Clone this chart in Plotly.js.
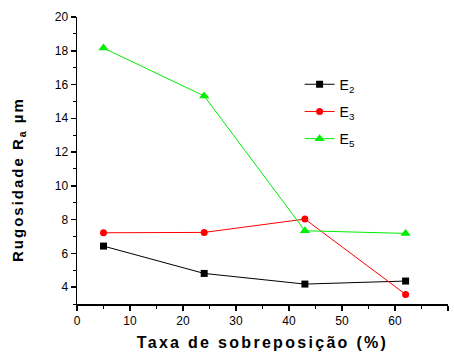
<!DOCTYPE html>
<html><head><meta charset="utf-8">
<script src="https://cdn.plot.ly/plotly-3.0.1.min.js"></script>
<style>
html,body{margin:0;padding:0;background:#fff;}
#chart{width:454px;height:356px;}
.xtitle{letter-spacing:2.3px;}
.annotation-text{letter-spacing:2px;}
</style>
</head><body>
<div id="chart"></div>
<script>
const overlap = [5, 24, 43, 62];
const E2 = [6.43, 4.81, 4.18, 4.36];
const E3 = [7.22, 7.24, 8.03, 3.57];
const E5 = [18.16, 15.32, 7.34, 7.18];
const seriesNames = ['E<sub>2</sub>', 'E<sub>3</sub>', 'E<sub>5</sub>'];
const xTicks = [0, 10, 20, 30, 40, 50, 60, 70];
const yTicks = [4, 6, 8, 10, 12, 14, 16, 18, 20];

const traces = [
  {x: overlap, y: E2, name: seriesNames[0], legendgroup: 'g2', mode: 'lines+markers',
   line: {color: '#000000', width: 1}, marker: {symbol: 'square', size: 7, color: '#000000'}},
  {x: overlap, y: E3, name: seriesNames[1], legendgroup: 'g3', mode: 'lines+markers',
   line: {color: '#ff0000', width: 1}, marker: {symbol: 'circle', size: 7, color: '#ff0000'}},
  {x: overlap, y: E5, name: seriesNames[2], legendgroup: 'g5', mode: 'lines+markers',
   line: {color: '#00ee00', width: 1}, marker: {symbol: 'triangle-up', size: 9, color: '#00ee00'}}
];

const fam = 'Liberation Sans, Arial, sans-serif';
const layout = {
  width: 454, height: 356,
  margin: {l: 77, r: 6, t: 17, b: 52},
  paper_bgcolor: '#fff', plot_bgcolor: '#fff',
  font: {family: fam, color: '#000', size: 12},
  showlegend: true,
  legend: {x: 0.6, y: 0.82, xanchor: 'left', yanchor: 'top', bgcolor: 'rgba(0,0,0,0)',
           font: {size: 14, family: fam}, tracegroupgap: 6},
  xaxis: {
    range: [0, 70], tickvals: xTicks, showgrid: false, zeroline: false,
    showline: true, linecolor: '#000', linewidth: 1.5,
    ticks: 'outside', ticklen: 5, tickwidth: 1.5, tickcolor: '#000',
    minor: {dtick: 5, ticks: 'outside', ticklen: 3, tickwidth: 1, tickcolor: '#000', showgrid: false},
    tickfont: {size: 12},
    title: {text: 'Taxa de sobreposição (%)', font: {size: 16, family: fam, weight: 'bold'}, standoff: 10}
  },
  yaxis: {
    range: [3, 20], tickvals: yTicks, showgrid: false, zeroline: false,
    showline: true, linecolor: '#000', linewidth: 1.5,
    ticks: 'outside', ticklen: 5, tickwidth: 1.5, tickcolor: '#000',
    minor: {dtick: 1, ticks: 'outside', ticklen: 3, tickwidth: 1, tickcolor: '#000', showgrid: false},
    tickfont: {size: 12}
  },
  annotations: [{
    text: 'Rugosidade R<sub>a</sub> µm', textangle: -90, showarrow: false,
    xref: 'paper', yref: 'paper', x: -0.159, y: 0.432, xanchor: 'center', yanchor: 'middle',
    font: {size: 15, family: fam, weight: 'bold', color: '#000'}
  }]
};

Plotly.newPlot('chart', traces, layout, {displayModeBar: false, staticPlot: true});
</script>
</body></html>
